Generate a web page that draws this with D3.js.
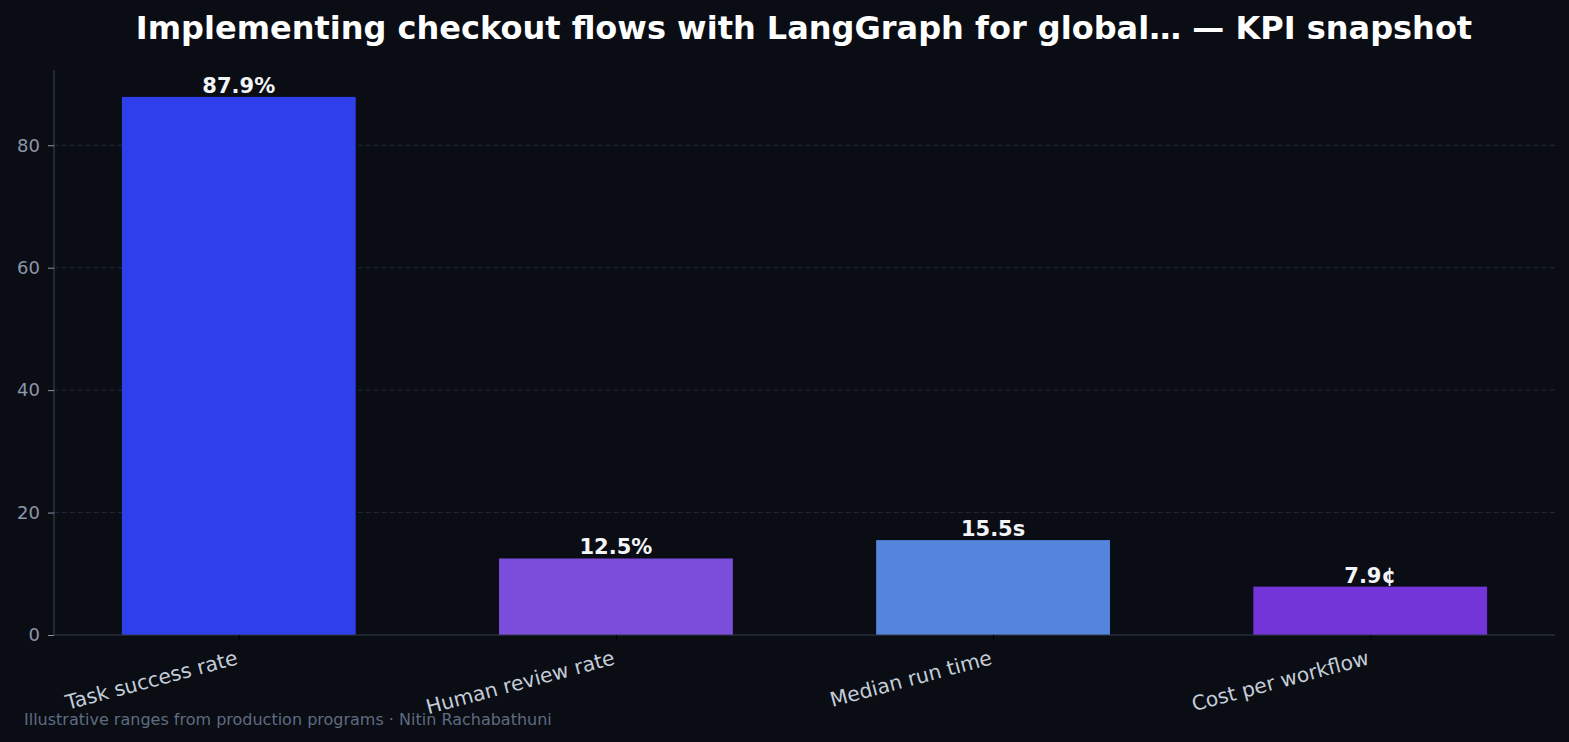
<!DOCTYPE html>
<html>
<head>
<meta charset="utf-8">
<script src="https://cdn.jsdelivr.net/npm/d3@7"></script>
<style>
  body { margin: 0; background: #0a0d14; }
  svg { display: block; font-family: "DejaVu Sans", sans-serif; }
</style>
</head>
<body>
<script>
const categories = ["Task success rate", "Human review rate", "Median run time", "Cost per workflow"];
const values = [87.9, 12.5, 15.5, 7.9];
const valueLabels = ["87.9%", "12.5%", "15.5s", "7.9¢"];
const barColors = ["#2f3feb", "#7c4ddb", "#5584dd", "#7335d8"];
const yTicks = [0, 20, 40, 60, 80];

const m = {
  width: 1569,
  height: 742,
  left: 54,
  right: 1555,
  top: 70,
  bottom: 635
}

let svg = d3.select("body")
  .append("svg")
  .attr("width", m.width)
  .attr("height", m.height);

svg.append("rect")
  .attr("width", m.width)
  .attr("height", m.height)
  .attr("fill", "#0a0d14");

// index-based x scale, matplotlib style
let x = d3.scaleLinear()
  .domain([-0.49, categories.length - 0.51])
  .range([m.left, m.right]);

let y = d3.scaleLinear()
  .domain([0, d3.max(values) * 1.05])
  .range([m.bottom, m.top]);

let barW = x(0.31) - x(-0.31);

// grid
svg.append("g")
  .selectAll("line")
  .data(yTicks.filter(d => d > 0))
  .enter()
  .append("line")
  .attr("x1", m.left)
  .attr("x2", m.right)
  .attr("y1", d => y(d))
  .attr("y2", d => y(d))
  .attr("stroke", "#222a3b")
  .attr("stroke-dasharray", "5 3");

// bars
svg.append("g")
  .selectAll("rect")
  .data(values)
  .enter()
  .append("rect")
  .attr("x", (d, i) => x(i) - barW / 2)
  .attr("y", d => y(d))
  .attr("width", barW)
  .attr("height", d => y(0) - y(d))
  .attr("fill", (d, i) => barColors[i]);

// value labels
svg.append("g")
  .selectAll("text")
  .data(values)
  .enter()
  .append("text")
  .attr("x", (d, i) => x(i))
  .attr("y", d => y(d) - 4)
  .attr("text-anchor", "middle")
  .attr("fill", "#f3f5f8")
  .attr("font-size", 21)
  .attr("font-weight", "bold")
  .text((d, i) => valueLabels[i]);

// y axis
let yAxis = svg.append("g")
  .attr("transform", `translate(${m.left},0)`)
  .call(d3.axisLeft(y).tickValues(yTicks).tickSize(6).tickPadding(8));
yAxis.select(".domain").attr("stroke", "#333c4c").attr("stroke-width", 1.2)
  .attr("d", `M0,${m.bottom}V${m.top}`);
yAxis.selectAll(".tick line").attr("stroke", "#8b96a8");
yAxis.selectAll(".tick text")
  .attr("fill", "#8b96a8")
  .attr("font-size", 18)
  .attr("font-family", "DejaVu Sans");

// x axis
let xAxis = svg.append("g")
  .attr("transform", `translate(0,${m.bottom})`)
  .call(d3.axisBottom(x).tickValues(d3.range(categories.length)).tickSize(6).tickFormat(""));
xAxis.select(".domain").attr("stroke", "#333c4c").attr("stroke-width", 1.2)
  .attr("d", `M${m.left},0H${m.right}`);
xAxis.selectAll(".tick line").attr("stroke", "#000");

svg.append("g")
  .selectAll("text")
  .data(categories)
  .enter()
  .append("text")
  .attr("transform", (d, i) => `translate(${x(i)},${m.bottom + 29}) rotate(-15)`)
  .attr("text-anchor", "end")
  .attr("fill", "#c5cdd9")
  .attr("font-size", 20.3)
  .text(d => d);

// title
svg.append("text")
  .attr("x", 804)
  .attr("y", 39)
  .attr("text-anchor", "middle")
  .attr("fill", "#ffffff")
  .attr("font-size", 32)
  .attr("font-weight", "bold")
  .text("Implementing checkout flows with LangGraph for global… — KPI snapshot");

// footer
svg.append("text")
  .attr("x", 24)
  .attr("y", 725)
  .attr("fill", "#5f6b80")
  .attr("font-size", 16)
  .text("Illustrative ranges from production programs · Nitin Rachabathuni");
</script>
</body>
</html>
